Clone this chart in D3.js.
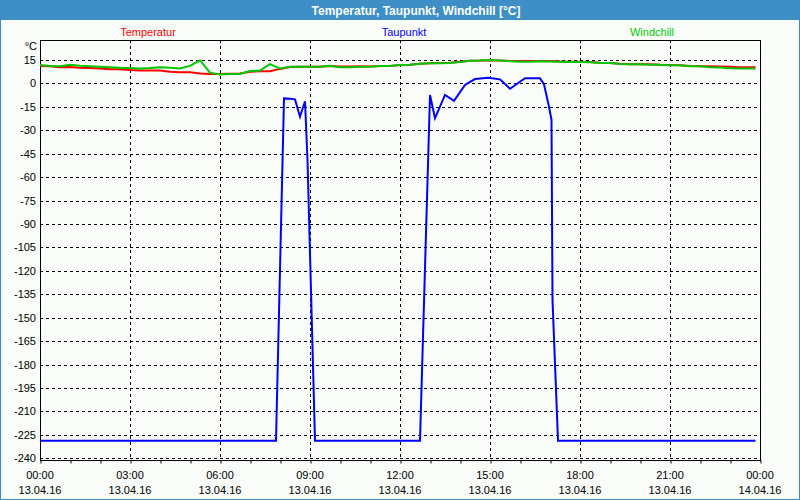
<!DOCTYPE html>
<html><head><meta charset="utf-8">
<script src="https://cdn.jsdelivr.net/npm/d3@7"></script>
<style>
html,body{margin:0;padding:0;background:#f9fcf9;}
svg{display:block;font-family:"Liberation Sans",Arial,sans-serif;}
</style></head><body>
<svg id="chart" width="800" height="500"></svg>
<script>
// ---------- data ----------
const title = "Temperatur, Taupunkt, Windchill [°C]";
const seriesNames = ["Temperatur", "Taupunkt", "Windchill"];
const yUnit = "°C";
const yTicks = [15,0,-15,-30,-45,-60,-75,-90,-105,-120,-135,-150,-165,-180,-195,-210,-225,-240];
const xTickHours = [0,3,6,9,12,15,18,21,24];
const xTimeLabels = ["00:00","03:00","06:00","09:00","12:00","15:00","18:00","21:00","00:00"];
const xDateLabels = ["13.04.16","13.04.16","13.04.16","13.04.16","13.04.16","13.04.16","13.04.16","13.04.16","14.04.16"];

// minutes since 13.04.16 00:00
const twMinutes = [0,20,40,60,80,100,120,140,160,180,200,220,240,260,280,300,320,340,360,380,400,420,440,460,
  480,500,520,540,560,580,600,620,640,660,680,700,720,740,760,780,800,820,840,860,880,900,920,940,
  960,980,1000,1020,1040,1060,1080,1100,1120,1140,1160,1180,1200,1220,1240,1260,1280,1300,1320,1340,1360,1380,1400,1420,1431];
const temperatur = [11.2,11.0,10.4,10.5,10.0,9.9,9.5,9.0,9.0,8.6,8.2,8.2,8.2,7.5,7.1,7.1,6.4,6.0,6.0,6.2,6.3,7.5,7.8,7.8,
  9.3,10.5,10.7,10.7,10.7,11.2,10.9,10.8,11.0,10.8,11.2,11.2,11.8,12.0,12.6,12.9,13.0,13.2,13.9,14.5,14.6,14.9,14.6,14.3,
  14.4,14.4,14.4,14.4,14.0,13.8,13.8,13.7,13.2,13.1,12.6,12.3,12.2,12.2,11.9,11.8,11.7,11.2,11.0,11.0,10.9,10.6,10.3,10.3,10.3];
const windchill = [11.8,11.2,11.0,12.0,11.3,11.0,10.6,10.3,10.0,9.9,9.5,9.8,10.3,10.0,9.6,11.2,14.8,6.9,5.7,6.0,6.1,7.9,8.2,12.4,
  9.5,10.6,10.7,10.7,10.7,11.3,10.4,10.3,10.6,10.7,11.1,11.1,11.8,12.0,12.6,12.9,12.9,13.1,13.7,14.5,14.6,15.0,14.6,14.2,
  13.8,13.8,14.2,14.0,13.8,13.7,13.7,13.5,13.1,13.0,12.4,12.2,12.2,12.0,12.0,11.7,11.6,11.0,11.0,10.4,10.2,9.7,9.6,9.6,9.6];

const tauMinutes = [0,472,488,500,510,520,530,535,550,760,780,790,810,828,850,870,896,920,940,970,1000,1008,1018,1023,1025,1036,1431];
const taupunkt = [-228.7,-228.7,-9.6,-9.8,-10.2,-21.3,-11.4,-49,-228.7,-228.7,-7.4,-22.3,-7.4,-11.2,-1.0,2.8,3.7,2.6,-3.4,3.3,3.3,-0.6,-14.9,-23.4,-138.6,-228.7,-228.7];

const colors = {Temperatur:"#ff0000", Taupunkt:"#0000ff", Windchill:"#00c800"};

// ---------- chart ----------
const svg = d3.select("#chart");
const W = 800, H = 500;
const L = 40, R = 760, T = 40, B = 460;

// frame and title bar
svg.append("rect").attr("x",0).attr("y",0).attr("width",W).attr("height",H).attr("fill","#f9fcf9");
svg.append("rect").attr("x",0).attr("y",0).attr("width",W).attr("height",20).attr("fill","#3d8fc6");
svg.append("rect").attr("x",0.5).attr("y",0.5).attr("width",W-1).attr("height",H-1)
   .attr("fill","none").attr("stroke","#3d8fc6").attr("stroke-width",1);
svg.append("text").attr("x",416).attr("y",14.5).attr("text-anchor","middle")
   .attr("fill","#fff").attr("font-weight","bold").attr("font-size","12px").text(title);

const x = d3.scaleLinear().domain([0,1440]).range([L,R]);
const y = d3.scaleLinear().domain([-241.1,27.8]).range([B,T]);

// legend
const legendX = [148,404,652];
seriesNames.forEach((n,i)=>{
  svg.append("text").attr("x",legendX[i]).attr("y",36).attr("text-anchor","middle")
     .attr("font-size","11px").attr("fill",colors[n]).text(n);
});

// grid
const g = svg.append("g");
g.selectAll("line.hg").data(yTicks).enter().append("line")
  .attr("x1",L).attr("x2",R)
  .attr("y1",d=>Math.round(y(d))+0.5).attr("y2",d=>Math.round(y(d))+0.5)
  .attr("stroke","#000").attr("stroke-dasharray","3,3");
g.selectAll("line.vg").data(xTickHours.slice(1,-1)).enter().append("line")
  .attr("y1",T).attr("y2",B)
  .attr("x1",d=>Math.round(x(d*60))+0.5).attr("x2",d=>Math.round(x(d*60))+0.5)
  .attr("stroke","#000").attr("stroke-dasharray","3,3");

// plot frame
svg.append("rect").attr("x",L+0.5).attr("y",T+0.5).attr("width",R-L).attr("height",B-T)
   .attr("fill","none").attr("stroke","#000").attr("stroke-width",1);

// x axis (hourly ticks)
const xAxis = d3.axisBottom(x).tickValues(d3.range(0,1441,60)).tickSize(3).tickFormat("");
const xa = svg.append("g").attr("transform",`translate(0.5,${B+0.5})`).call(xAxis);
xa.select(".domain").remove();
xa.selectAll(".tick line").attr("stroke","#000");

xTickHours.forEach((h,i)=>{
  const t = svg.append("text").attr("x",x(h*60)).attr("text-anchor","middle").attr("font-size","11px").attr("fill","#000");
  t.append("tspan").attr("x",x(h*60)).attr("y",479).text(xTimeLabels[i]);
  t.append("tspan").attr("x",x(h*60)).attr("y",494).text(xDateLabels[i]);
});

// y axis labels
const yAxis = d3.axisLeft(y).tickValues(yTicks).tickSize(0).tickPadding(4).tickFormat(d=>d);
const ya = svg.append("g").attr("transform",`translate(${L},0)`).call(yAxis);
ya.select(".domain").remove();
ya.selectAll("text").attr("font-size","11px").attr("font-family","Liberation Sans, Arial, sans-serif").attr("fill","#000");
svg.append("text").attr("x",37).attr("y",50).attr("text-anchor","end").attr("font-size","11px").text(yUnit);

// lines
const line = d3.line().x(d=>x(d[0])).y(d=>y(d[1]));
const plot = svg.append("g");
plot.append("path").datum(twMinutes.map((m,i)=>[m,temperatur[i]]))
  .attr("d",line).attr("fill","none").attr("stroke",colors.Temperatur).attr("stroke-width",2);
plot.append("path").datum(twMinutes.map((m,i)=>[m,windchill[i]]))
  .attr("d",line).attr("fill","none").attr("stroke",colors.Windchill).attr("stroke-width",2);
plot.append("path").datum(tauMinutes.map((m,i)=>[m,taupunkt[i]]))
  .attr("d",line).attr("fill","none").attr("stroke",colors.Taupunkt).attr("stroke-width",2);
</script>
</body></html>
